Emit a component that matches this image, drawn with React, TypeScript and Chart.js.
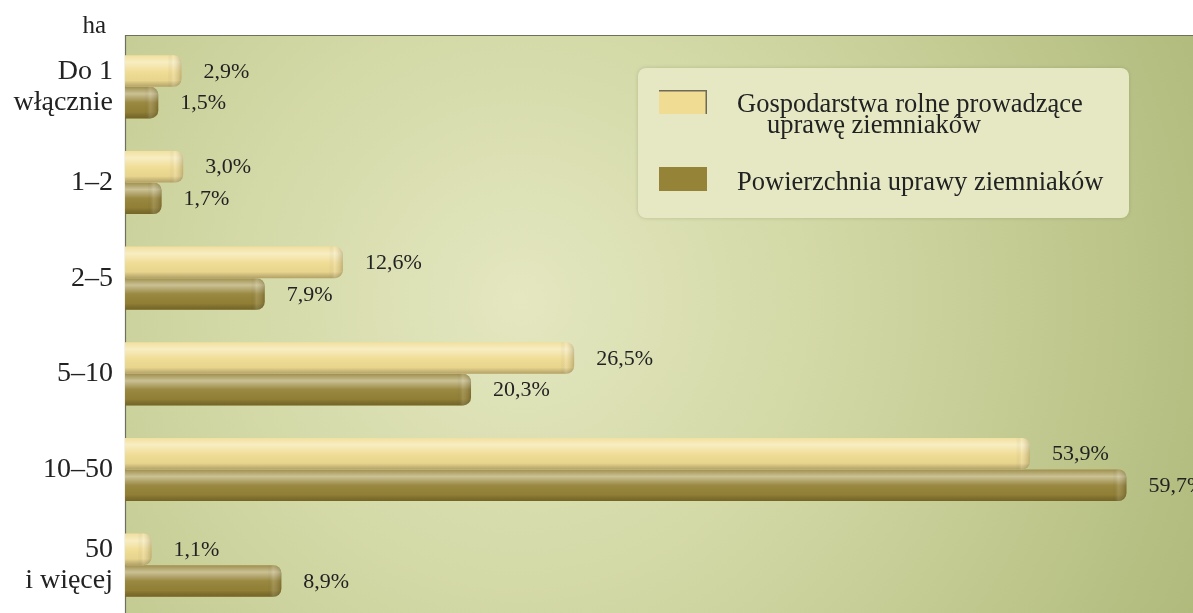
import React, { useEffect, useRef } from "react";
import { Chart, registerables } from "chart.js";

Chart.register(...registerables);

const categories: (string | string[])[] = [
  ["Do 1", "włącznie"],
  "1–2",
  "2–5",
  "5–10",
  "10–50",
  ["50", "i więcej"],
];
const farmsShare = [2.9, 3.0, 12.6, 26.5, 53.9, 1.1];
const areaShare = [1.5, 1.7, 7.9, 20.3, 59.7, 8.9];
const seriesNames = [
  "Gospodarstwa rolne prowadzące uprawę ziemniaków",
  "Powierzchnia uprawy ziemniaków",
];
const legendLines = [
  ["Gospodarstwa rolne prowadzące", "uprawę ziemniaków"],
  ["Powierzchnia uprawy ziemniaków"],
];
const axisUnit = "ha";

const SERIF = "'Liberation Serif', 'DejaVu Serif', serif";
const LIGHT = "#f0dc92";
const DARK = "#958337";
const AXIS_MIN = -0.5;
const AXIS_MAX = 63.7;

function fmt(v: number) {
  return v.toFixed(1).replace(".", ",") + "%";
}

function roundRectPath(ctx: CanvasRenderingContext2D, x: number, y: number, w: number, h: number, r: number[]) {
  ctx.beginPath();
  (ctx as any).roundRect(x, y, w, h, r);
}

const decorPlugin = {
  id: "decor",
  beforeDraw(chart: any) {
    const { ctx, chartArea } = chart;
    const top = chartArea.top - 4;
    const left = chartArea.left;
    ctx.save();
    const g = ctx.createRadialGradient(520, 300, 0, 520, 300, 760);
    g.addColorStop(0, "#e4e7c0");
    g.addColorStop(0.45, "#d0d6a2");
    g.addColorStop(1, "#afb97a");
    ctx.fillStyle = g;
    ctx.fillRect(left, top, chart.width - left, chart.height - top);
    ctx.strokeStyle = "#6c705c";
    ctx.lineWidth = 1.2;
    ctx.beginPath();
    ctx.moveTo(left + 0.5, chart.height);
    ctx.lineTo(left + 0.5, top + 0.5);
    ctx.lineTo(chart.width, top + 0.5);
    ctx.stroke();
    // unit label
    ctx.fillStyle = "#222";
    ctx.font = "25px " + SERIF;
    ctx.textAlign = "right";
    ctx.textBaseline = "alphabetic";
    ctx.fillText(axisUnit, 106, 33);
    // legend box
    const bx = 638, by = 68, bw = 491, bh = 150;
    ctx.shadowColor = "rgba(80,90,40,0.25)";
    ctx.shadowBlur = 4;
    ctx.fillStyle = "#e5e8c3";
    roundRectPath(ctx, bx, by, bw, bh, [8, 8, 8, 8]);
    ctx.fill();
    ctx.shadowColor = "transparent";
    ctx.shadowBlur = 0;
    const ds = chart.data.datasets;
    const swY = [90, 167];
    const baseY = [112, 190];
    ds.forEach((d: any, i: number) => {
      ctx.fillStyle = d.backgroundColor;
      ctx.fillRect(659, swY[i], 48, 24);
      if (i === 0) {
        ctx.strokeStyle = "#6f6a58";
        ctx.lineWidth = 1.5;
        ctx.beginPath();
        ctx.moveTo(659, swY[i] + 0.75);
        ctx.lineTo(706.25, swY[i] + 0.75);
        ctx.lineTo(706.25, swY[i] + 24);
        ctx.stroke();
      }
      ctx.fillStyle = "#222";
      ctx.font = "26.5px " + SERIF;
      ctx.textAlign = "left";
      legendLines[i].forEach((line, j) => {
        ctx.fillText(line, j === 0 ? 737 : 767, baseY[i] + j * 21);
      });
    });
    ctx.restore();
  },
  afterDatasetsDraw(chart: any) {
    const { ctx } = chart;
    ctx.save();
    chart.data.datasets.forEach((d: any, di: number) => {
      const meta = chart.getDatasetMeta(di);
      meta.data.forEach((el: any, i: number) => {
        const { x, y, base, height } = el.getProps(["x", "y", "base", "height"], true);
        const top = y - height / 2;
        const w = x - base;
        const r = Math.min(8, w / 2);
        // vertical shading
        const g = ctx.createLinearGradient(0, top, 0, top + height);
        g.addColorStop(0, "rgba(255,255,255,0.1)");
        g.addColorStop(0.22, "rgba(255,255,240,0.5)");
        g.addColorStop(0.5, "rgba(255,255,255,0.05)");
        g.addColorStop(0.8, "rgba(0,0,0,0.03)");
        g.addColorStop(1, "rgba(40,30,0,0.3)");
        roundRectPath(ctx, base, top, w, height, [0, r, r, 0]);
        ctx.fillStyle = g;
        ctx.fill();
        // end cap shading
        const capW = Math.min(14, w);
        const hg = ctx.createLinearGradient(x - capW, 0, x, 0);
        hg.addColorStop(0, "rgba(0,0,0,0)");
        hg.addColorStop(0.4, "rgba(255,255,255,0.12)");
        hg.addColorStop(1, "rgba(40,30,0,0.22)");
        roundRectPath(ctx, x - capW, top, capW, height, [0, r, r, 0]);
        ctx.fillStyle = hg;
        ctx.fill();
        // label
        ctx.fillStyle = "#222";
        ctx.font = "22px " + SERIF;
        ctx.textAlign = "left";
        ctx.textBaseline = "middle";
        ctx.fillText(fmt(d.data[i]), x + 22, y + 1);
      });
    });
    ctx.restore();
  },
};

export default function App() {
  const ref = useRef<HTMLCanvasElement>(null);
  useEffect(() => {
    if (!ref.current) return;
    const common = {
      borderWidth: 0,
      borderRadius: 8,
      borderSkipped: "start" as const,
      barPercentage: 1,
      categoryPercentage: 0.66,
      base: AXIS_MIN,
    };
    const chart = new Chart(ref.current, {
      type: "bar",
      data: {
        labels: categories,
        datasets: [
          { label: seriesNames[0], data: farmsShare, backgroundColor: LIGHT, ...common },
          { label: seriesNames[1], data: areaShare, backgroundColor: DARK, ...common },
        ],
      },
      options: {
        indexAxis: "y",
        responsive: false,
        animation: false,
        layout: { padding: { top: 39, right: 0, bottom: 0, left: 0 } },
        plugins: {
          legend: { display: false },
          tooltip: { enabled: false },
        },
        scales: {
          x: {
            display: false,
            min: AXIS_MIN,
            max: AXIS_MAX,
          },
          y: {
            grid: { display: false, drawTicks: false },
            border: { display: false },
            afterFit: (scale: any) => {
              scale.width = 125;
              scale.paddingTop = 0;
              scale.paddingBottom = 0;
            },
            ticks: {
              padding: 12,
              color: "#222",
              font: { family: SERIF, size: 28, lineHeight: 1.1 },
              autoSkip: false,
            },
          },
        },
      },
      plugins: [decorPlugin],
    });
    return () => chart.destroy();
  }, []);
  return (
    <div style={{ position: "fixed", left: 0, top: 0, width: 1193, height: 613, background: "#fff" }}>
      <canvas ref={ref} width={1193} height={613} style={{ display: "block" }} />
    </div>
  );
}
